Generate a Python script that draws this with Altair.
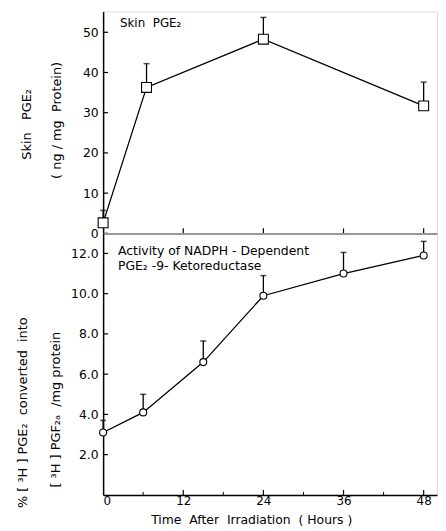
import altair as alt
import pandas as pd

# ---- data ----
top_hours = [0, 6.5, 24, 48]
top_pge2 = [2.6, 36.3, 48.3, 31.7]
top_upper = [5.7, 42.2, 53.7, 37.6]

bot_hours = [0, 6, 15, 24, 36, 48]
bot_conv = [3.1, 4.1, 6.6, 9.9, 11.0, 11.9]
bot_upper = [3.7, 5.0, 7.65, 10.9, 12.05, 12.6]

top_y_ticks = [0, 10, 20, 30, 40, 50]
bot_y_ticks = [2, 4, 6, 8, 10, 12]
x_major = [0, 12, 24, 36, 48]
x_minor = [6, 18, 30, 42]

W = 337
H_TOP = 224
H_BOT = 264
FONT = "DejaVu Sans"

xscale = alt.Scale(domain=[0, 50], nice=False, zero=False)
top_yscale = alt.Scale(domain=[0, 55.2], nice=False)
bot_yscale = alt.Scale(domain=[0, 13], nice=False)

top_df = pd.DataFrame({"x": top_hours, "y": top_pge2, "up": top_upper})
bot_df = pd.DataFrame({"x": bot_hours, "y": bot_conv, "up": bot_upper})


def text_layer(txt, x, y, angle=0, align="left", size=12.5):
    txt = txt.replace(" ", "\u00a0")
    return alt.Chart(alt.Data(values=[{"t": txt}])).mark_text(
        align=align, baseline="middle", angle=angle, fontSize=size,
        font=FONT, color="black"
    ).encode(text="t:N", x=alt.value(x), y=alt.value(y))


def panel(df, yscale, yticks, ylabel_fmt, height, show_xlabels, marker, msize, texts):
    base = alt.Chart(df)
    xaxis = alt.Axis(
        values=x_major, labels=show_xlabels, ticks=False, grid=False,
        domainColor="black", domainWidth=1.5, labelFontSize=12,
        labelColor="black", labelFont=FONT, labelPadding=1, title=None,
    )
    yaxis = alt.Axis(
        values=yticks, format=ylabel_fmt, ticks=False, grid=False,
        domainColor="black", domainWidth=1.5, labelFontSize=12.5,
        labelColor="black", labelFont=FONT, labelPadding=5, title=None,
    )
    X = alt.X("x:Q", scale=xscale, axis=xaxis, title=None)
    Y = alt.Y("y:Q", scale=yscale, axis=yaxis, title=None)

    err = base.mark_rule(color="black", strokeWidth=1.3).encode(
        x=X, y=Y, y2="up:Q")
    cap = base.mark_tick(orient="horizontal", size=6, thickness=1.5,
                         color="black").encode(x="x:Q", y="up:Q")
    line = base.mark_line(color="black", strokeWidth=1.3).encode(x="x:Q", y="y:Q")
    pts = base.mark_point(shape=marker, filled=True, fill="white", stroke="black",
                          strokeWidth=1.1, size=msize, opacity=1).encode(
        x="x:Q", y="y:Q")

    ytick_df = pd.DataFrame({"y": yticks})
    yt = alt.Chart(ytick_df).mark_rule(color="black", strokeWidth=1.2).encode(
        y="y:Q", x=alt.value(0), x2=alt.value(5))
    xt_major = alt.Chart(pd.DataFrame({"x": x_major[1:]})).mark_rule(
        color="black", strokeWidth=1.2).encode(
        x="x:Q", y=alt.value(height), y2=alt.value(height - 5))
    layers = [err, cap, line, pts, yt, xt_major]
    if show_xlabels:
        xt_minor = alt.Chart(pd.DataFrame({"x": x_minor})).mark_rule(
            color="black", strokeWidth=1).encode(
            x="x:Q", y=alt.value(height), y2=alt.value(height - 3))
        layers.append(xt_minor)
    layers += texts
    return alt.layer(*layers).properties(width=W, height=height)


top = panel(
    top_df, top_yscale, top_y_ticks, "d", H_TOP, False, "square", 100,
    [
        text_layer("Skin  PGE₂", 17, 12, size=12),
        text_layer("Skin   PGE₂", -77, 114, angle=270, align="center", size=13),
        text_layer("( ng / mg  Protein)", -47, 110, angle=270, align="center", size=13),
    ],
)

bottom = panel(
    bot_df, bot_yscale, bot_y_ticks, ".1f", H_BOT, True, "circle", 50,
    [
        text_layer("Activity of NADPH - Dependent", 15, 18),
        text_layer("PGE₂ -9- Ketoreductase", 15, 33),
        text_layer("% [ ³H ] PGE₂  converted  into", -81, 181, angle=270, align="center", size=13),
        text_layer("[ ³H ] PGF₂ₐ  /mg protein", -48, 178, angle=270, align="center", size=13),
        text_layer("Time  After  Irradiation  ( Hours )", 150, 289, align="center", size=12.5),
    ],
)

chart = alt.vconcat(top, bottom, spacing=0, bounds="flush").properties(
    padding={"left": 8, "top": 0, "right": 0, "bottom": 0}
).configure_view(stroke=None).configure(font=FONT)

chart.save("out.html", embed_options={"renderer": "svg", "actions": False})
